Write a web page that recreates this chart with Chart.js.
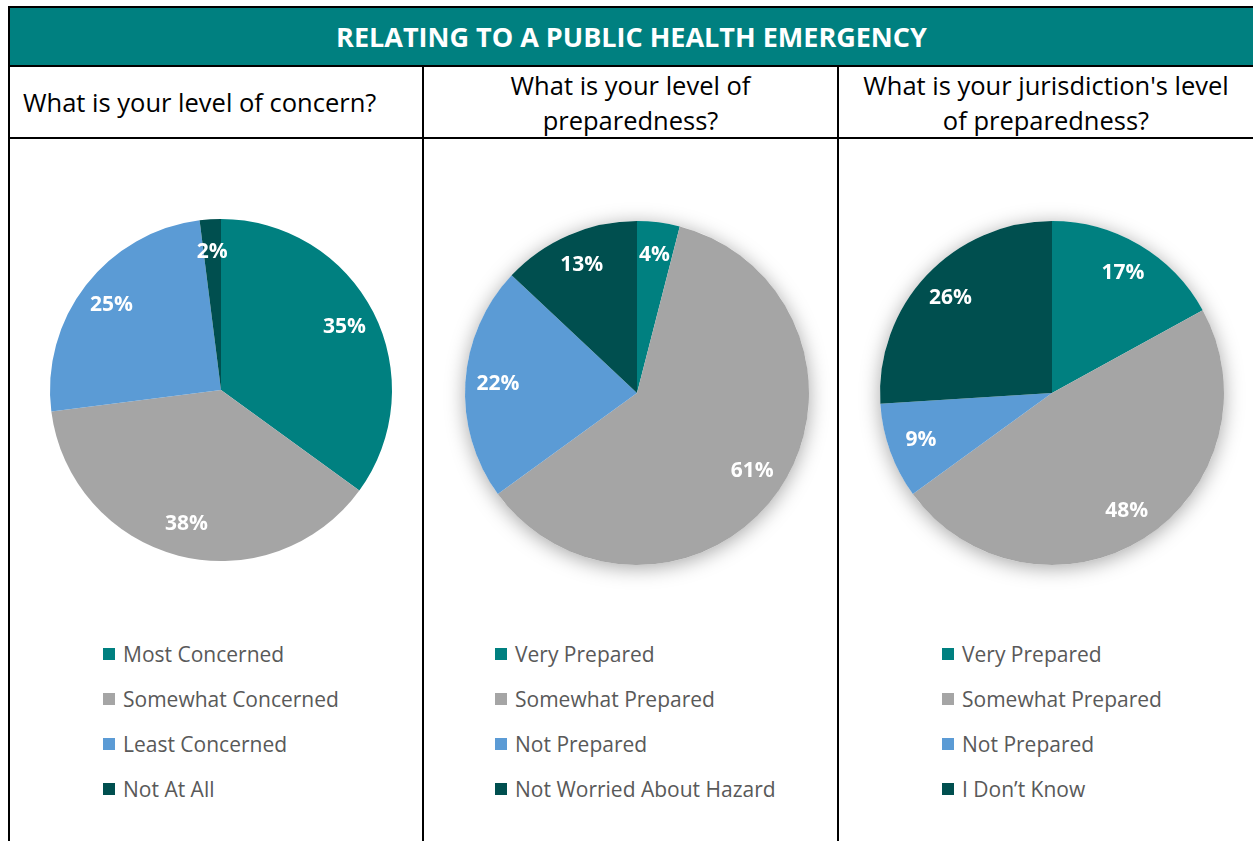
<!DOCTYPE html>
<html>
<head>
<meta charset="utf-8">
<script src="https://cdn.jsdelivr.net/npm/chart.js@4.4.0/dist/chart.umd.min.js"></script>
<style>
body{margin:0;background:#fff;width:1253px;height:841px;overflow:hidden;position:relative;font-family:"Open Sans",sans-serif}
.abs{position:absolute}
#head{left:10px;top:8px;width:1243px;height:57px;background:#008080;color:#fff;font-weight:bold;font-size:27px;display:flex;align-items:center;justify-content:center}
.hline{left:8px;width:1245px;height:2px;background:#000}
.vline{width:2px;background:#000}
.q{top:67px;height:71px;font-size:25.5px;color:#000;line-height:35px;display:flex;align-items:center;justify-content:center;text-align:center}
.legend{color:#595959;font-size:21px}
.legend div{height:45px;display:flex;align-items:center}
.legend span{display:inline-block;width:12px;height:12px;margin-right:8px}
canvas{position:absolute}
</style>
</head>
<body>
<div class="abs hline" style="top:6px"></div>
<div class="abs" id="head">RELATING TO A PUBLIC HEALTH EMERGENCY</div>
<div class="abs hline" style="top:65px"></div>
<div class="abs hline" style="top:137px"></div>
<div class="abs vline" style="left:8px;top:6px;height:835px"></div>
<div class="abs vline" style="left:422px;top:65px;height:776px"></div>
<div class="abs vline" style="left:837px;top:65px;height:776px"></div>

<div class="abs q" style="left:23px;width:399px;justify-content:flex-start">What is your level of concern?</div>
<div class="abs q" style="left:424px;width:413px">What is your level of<br>preparedness?</div>
<div class="abs q" style="left:839px;width:414px">What is your jurisdiction's level<br>of preparedness?</div>

<canvas id="c1" width="402" height="402" style="left:20px;top:189px"></canvas>
<canvas id="c2" width="402" height="402" style="left:436px;top:192px"></canvas>
<canvas id="c3" width="402" height="402" style="left:851px;top:192px"></canvas>

<div class="abs legend" id="l1" style="left:103px;top:631px"></div>
<div class="abs legend" id="l2" style="left:495px;top:631px"></div>
<div class="abs legend" id="l3" style="left:942px;top:631px"></div>

<script>
// slice colours shared by all three pies
const colors=['#008080','#A5A5A5','#5B9BD5','#004F4F'];

const concernLabels=['Most Concerned','Somewhat Concerned','Least Concerned','Not At All'];
const concernValues=[35,38,25,2];

const selfLabels=['Very Prepared','Somewhat Prepared','Not Prepared','Not Worried About Hazard'];
const selfValues=[4,61,22,13];

const jurisLabels=['Very Prepared','Somewhat Prepared','Not Prepared','I Don\u2019t Know'];
const jurisValues=[17,48,9,26];

// percent labels inside each slice
const pctLabels={
  id:'pctLabels',
  afterDatasetsDraw(chart){
    const ctx=chart.ctx;
    const meta=chart.getDatasetMeta(0);
    const vals=chart.data.datasets[0].data;
    ctx.save();
    ctx.fillStyle='#fff';
    ctx.font='bold 21px "Open Sans"';
    ctx.textAlign='center';
    ctx.textBaseline='middle';
    meta.data.forEach((arc,i)=>{
      const p=arc.getProps(['x','y','startAngle','endAngle','outerRadius'],true);
      const mid=(p.startAngle+p.endAngle)/2;
      const r=p.outerRadius*0.81;
      ctx.fillText(vals[i]+'%',p.x+Math.cos(mid)*r,p.y+Math.sin(mid)*r);
    });
    ctx.restore();
  }
};

// soft glow behind the whole pie
const pieShadow={
  id:'pieShadow',
  beforeDatasetsDraw(chart){
    const arc=chart.getDatasetMeta(0).data[0];
    if(!arc) return;
    const ctx=chart.ctx;
    ctx.save();
    ctx.shadowColor='rgba(0,0,0,0.35)';
    ctx.shadowBlur=20;
    ctx.shadowOffsetY=3;
    ctx.fillStyle='#fff';
    ctx.beginPath();
    ctx.arc(arc.x,arc.y,arc.outerRadius,0,Math.PI*2);
    ctx.fill();
    ctx.restore();
  }
};

function makePie(id,labels,values,pad,shadow){
  const plugins=[pctLabels];
  if(shadow) plugins.unshift(pieShadow);
  new Chart(document.getElementById(id),{
    type:'pie',
    data:{labels:labels,datasets:[{data:values,backgroundColor:colors,borderWidth:0,hoverOffset:0,offset:0}]},
    options:{
      responsive:false,
      animation:false,
      layout:{padding:pad},
      plugins:{legend:{display:false},tooltip:{enabled:false}}
    },
    plugins:plugins
  });
}

function makeLegend(id,labels){
  const box=document.getElementById(id);
  labels.forEach((t,i)=>{
    const row=document.createElement('div');
    const sw=document.createElement('span');
    sw.style.background=colors[i];
    row.appendChild(sw);
    row.appendChild(document.createTextNode(t));
    box.appendChild(row);
  });
}

makePie('c1',concernLabels,concernValues,30,false);
makePie('c2',selfLabels,selfValues,29,true);
makePie('c3',jurisLabels,jurisValues,29,true);
makeLegend('l1',concernLabels);
makeLegend('l2',selfLabels);
makeLegend('l3',jurisLabels);
</script>
</body>
</html>
